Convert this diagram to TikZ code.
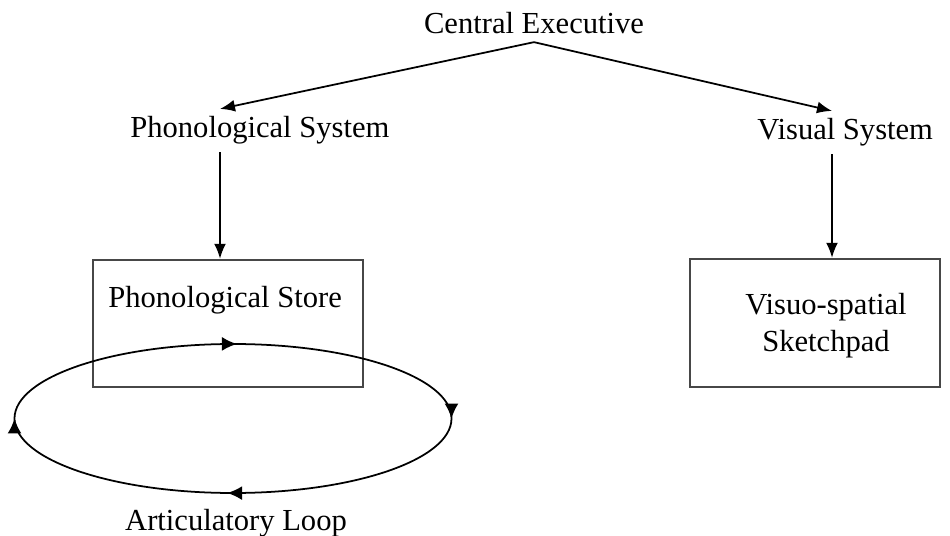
\documentclass[tikz,border=0pt]{standalone}
\usepackage{fontspec}
\setmainfont{Liberation Serif}
\usetikzlibrary{arrows.meta,decorations.markings}

\begin{document}
\begin{tikzpicture}[every node/.style={inner sep=0.15cm,font=\fontsize{17.4}{21}\selectfont},
    arr/.style={-{Latex[length=0.3cm,width=0.24cm]},line width=1pt},
    box/.style={draw=black!72,line width=1.4pt,inner sep=0pt}]
    %
    \useasboundingbox (0,0) rectangle (19,-10.72);
    \coordinate (pscol) at (4.4,0);
    \coordinate (vscol) at (16.64,0);
    \coordinate (loopc) at (4.66,-8.37);
    %
    \node[anchor=base] (ce) at (10.68,-0.68) {Central Executive};
    \node[anchor=base west] (ps) at (2.45,-2.76) {Phonological System};
    \node[anchor=base west] (vs) at (14.99,-2.8) {Visual System};

    \node[box,minimum width=5.4cm,minimum height=2.54cm] (store) at (4.56,-6.47) {};
    \node[anchor=base west] (storetxt) at (2.01,-6.16) {Phonological Store};
    \node[box,minimum width=5cm,minimum height=2.56cm] (vsk) at (16.3,-6.46) {};
    \node[align=center] (vsktxt) at (16.52,-6.52) {Visuo-spatial\\Sketchpad};

    \node[anchor=base] (loop) at (4.72,-10.6) {Articulatory Loop};
    %
    \draw[arr] (ce.south) -- (ps.north -| pscol);
    \draw[arr] (ce.south) -- (vs.north -| vscol);
    \draw[arr] (ps.south -| pscol) -- (store.north -| pscol);
    \draw[arr] (vs.south -| vscol) -- (vsk.north -| vscol);
    %
    \draw[line width=1pt,postaction={decorate},decoration={markings,
        mark=at position 0.004 with {\arrow{Latex[length=0.3cm,width=0.28cm]}},
        mark=at position 0.25 with {\arrow{Latex[length=0.3cm,width=0.28cm]}},
        mark=at position 0.506 with {\arrow{Latex[length=0.3cm,width=0.28cm]}},
        mark=at position 0.75 with {\arrow{Latex[length=0.3cm,width=0.28cm]}}}]
        (loopc) ++(0,1.49) arc[start angle=90,end angle=-270,x radius=4.37cm,y radius=1.49cm];
    %
\end{tikzpicture}
\end{document}
